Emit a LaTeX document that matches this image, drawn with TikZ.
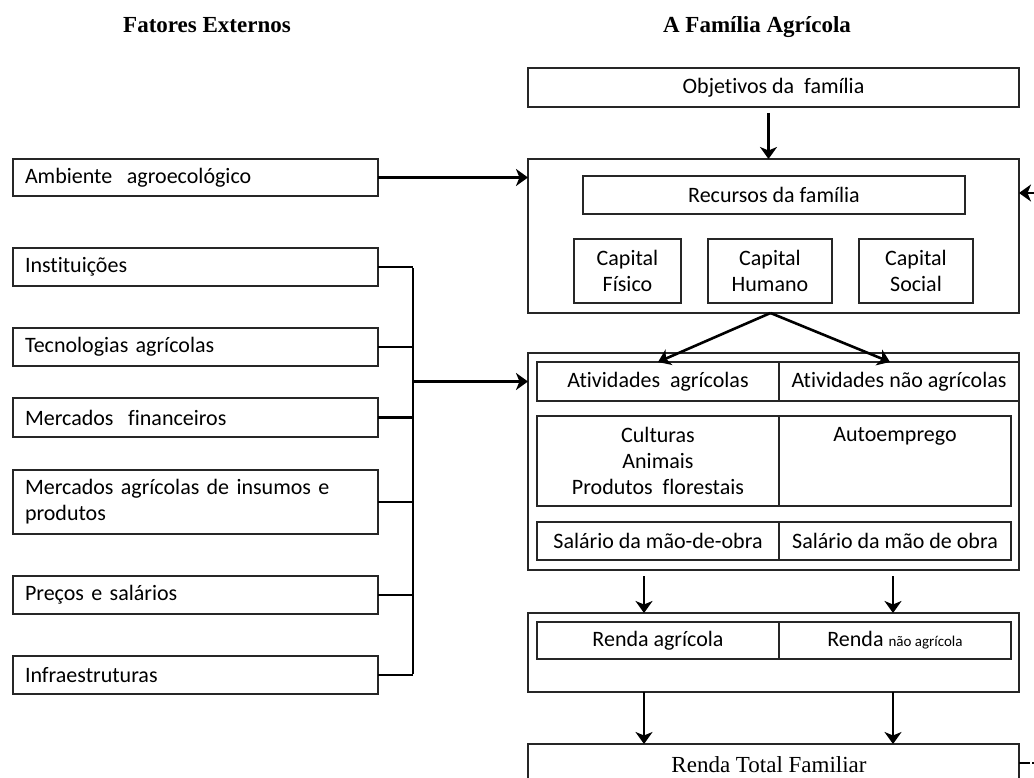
\documentclass[tikz,border=0pt]{standalone}
\usepackage{fontspec}
\setmainfont{Carlito}[Ligatures=NoCommon]
\newfontfamily\tms{Liberation Serif}
\usetikzlibrary{arrows.meta}
\begin{document}
\begin{tikzpicture}[x=1pt,y=-1pt,
  box/.style={draw=black!85, line width=1.5pt, inner sep=0pt, outer sep=0pt, anchor=north west, font=\fontsize{22}{26}\selectfont, align=center},
  lbox/.style={box, align=left, text width=#1, inner xsep=12pt},
  arr/.style={line width=2.6pt, -{Stealth[length=12pt,width=17pt,inset=3.5pt]}},
  ln/.style={line width=2.6pt},
  hdr/.style={font=\tms\bfseries\fontsize{23}{26}\selectfont, anchor=base, inner sep=0pt}
]
\clip (0,0) rectangle (1034,778);
\fill[white] (0,0) rectangle (1034,778);

% headers
\node[hdr] (h1) at (207,33) {Fatores Externos};
\node[hdr] (h2) at (757,33) {A Família Agrícola};

% left column
\node[lbox=341pt, minimum width=365pt, minimum height=37pt] (amb) at (13,159) {Ambiente\ \ agroecológico};
\node[lbox=341pt, minimum width=365pt, minimum height=38pt] (inst) at (13,248) {Instituições};
\node[lbox=341pt, minimum width=365pt, minimum height=38pt] (tec) at (13,328) {Tecnologias\ agrícolas};
\node[lbox=341pt, minimum width=365pt, minimum height=39pt] (mfin) at (13,398) {Mercados\ \ financeiros};
\node[lbox=341pt, minimum width=365pt, minimum height=64pt] (magr) at (13,470) {Mercados\ agrícolas de\ insumos\ e\\produtos};
\node[lbox=341pt, minimum width=365pt, minimum height=38pt] (pre) at (13,576) {Preços\ e\ salários};
\node[lbox=341pt, minimum width=365pt, minimum height=38pt] (inf) at (13,656) {Infraestruturas};

% right column
\node[box, minimum width=491pt, minimum height=39pt] (obj) at (528,68) {Objetivos\ da\ \ família};
\node[box, minimum width=491pt, minimum height=154pt] (rec) at (528,159) {};
\node[box, minimum width=382pt, minimum height=38pt] (recin) at (583,176) {Recursos da família};
\node[box, minimum width=107pt, minimum height=64pt] (cf) at (574,239) {Capital\\Físico};
\node[box, minimum width=124pt, minimum height=64pt] (ch) at (708,239) {Capital\\Humano};
\node[box, minimum width=114pt, minimum height=64pt] (cs) at (859,239) {Capital\\Social};

\node[box, minimum width=491pt, minimum height=217pt] (ativ) at (528,353) {};
\node[box, minimum width=242pt, minimum height=39pt] (a1l) at (537,362) {Atividades\ \ agrícolas};
\node[box, minimum width=240pt, minimum height=39pt] (a1r) at (779,362) {Atividades não agrícolas};
\node[box, minimum width=242pt, minimum height=90pt] (a2l) at (537,416) {};
\node[box, minimum width=232pt, minimum height=90pt] (a2r) at (779,416) {};
\node[font=\fontsize{22}{26}\selectfont, align=center, anchor=north, inner sep=0pt] (t2l) at ([yshift=-11pt]a2l.north) {Culturas\\Animais\\Produtos\ \ florestais};
\node[font=\fontsize{22}{26}\selectfont, anchor=north, inner sep=0pt] (t2r) at ([yshift=-11pt]a2r.north) {Autoemprego};
\node[box, minimum width=242pt, minimum height=38pt] (a3l) at (537,522) {Salário da mão-de-obra};
\node[box, minimum width=232pt, minimum height=38pt] (a3r) at (779,522) {Salário da mão de obra};

\node[box, minimum width=491pt, minimum height=79pt] (renda) at (528,613) {};
\node[box, minimum width=242pt, minimum height=37pt] (r1l) at (537,622) {Renda\ agrícola};
\node[box, minimum width=232pt, minimum height=37pt] (r1r) at (779,622) {Renda\ {\fontsize{15}{16}\selectfont não\ agrícola}};

\node[box, minimum width=491pt, minimum height=60pt] (tot) at (528,744) {};
\node[font=\tms\fontsize{23}{26}\selectfont, inner sep=0pt, anchor=base] (tott) at (769,772) {Renda\ Total\ Familiar};

% connectors
\draw[arr] ([xshift=-5pt,yshift=-6pt]obj.south) -- ([xshift=-5pt]rec.north);
\draw[arr] (amb.east) -- (amb.east -| rec.west);

\coordinate (bx) at (413,0);
\draw[ln] (inst.east) -- (inst.east -| bx);
\draw[ln] (tec.east) -- (tec.east -| bx);
\draw[ln] (mfin.east) -- (mfin.east -| bx);
\draw[ln] (magr.east) -- (magr.east -| bx);
\draw[ln] (pre.east) -- (pre.east -| bx);
\draw[ln] (inf.east) -- (inf.east -| bx);
\draw[ln] ([yshift=-1.3pt]inst.east -| bx) -- ([yshift=1.3pt]inf.east -| bx);
\draw[arr] (bx |- a1l) -- (a1l -| ativ.west);

\coordinate (rs) at ([xshift=-3pt]rec.south);
\draw[arr] (rs) -- (a1l.north);
\draw[arr] (rs) -- ([xshift=-9pt]a1r.north);

\coordinate (cl) at (644,0);
\coordinate (cr) at (893,0);
\draw[arr] ([yshift=-6pt]ativ.south -| cl) -- (renda.north -| cl);
\draw[arr] ([yshift=-6pt]ativ.south -| cr) -- (renda.north -| cr);
\draw[arr] (renda.south -| cl) -- (tot.north -| cl);
\draw[arr] (renda.south -| cr) -- (tot.north -| cr);

\coordinate (fb1) at (1040,193);
\draw[arr] (fb1) -- (fb1 -| rec.east);
\coordinate (fb2) at (1036,763);
\draw[line width=2.6pt, dash pattern=on 11pt off 2pt] (fb2 -| tot.east) -- (fb2);
\end{tikzpicture}
\end{document}
